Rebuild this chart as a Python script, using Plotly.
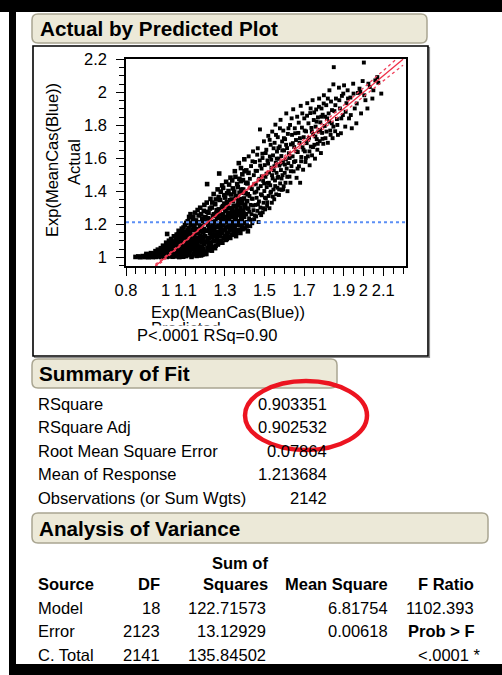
import plotly.graph_objects as go

W, H = 502, 675
FONT = "Liberation Sans, Arial, sans-serif"
BODY = 16.5
HEAD = 20.7

# ---- scatter data: (predicted, actual) ----
pts_floor = [(0.848,1.003),(0.862,1.006),(0.871,1.001),(0.884,1.008),(0.893,1.002),(0.902,1.012),(0.906,1.004),
             (0.914,1.001),(0.918,1.018),(0.923,1.007),(0.931,1.013),(0.935,1.002),(0.941,1.024),(0.946,1.009),
             (0.952,1.003),(0.955,1.031),(0.958,1.016),(0.963,1.006),(0.967,1.041),(0.971,1.022),(0.974,1.011),
             (0.978,1.002),(0.982,1.035),(0.985,1.052),(0.988,1.018),(0.991,1.007),(0.994,1.028),(0.997,1.063),
             (1.001,1.044),(1.004,1.013),(1.006,1.003),(1.008,1.142),(1.009,1.072),(1.012,1.025),(1.015,1.055),
             (1.018,1.037),(1.021,1.009),(1.024,1.084),(1.027,1.046),(1.029,1.018),(1.032,1.066),(1.035,1.004),
             (1.037,1.097),(1.04,1.031),(1.043,1.058),(1.046,1.012),(1.048,1.078),(1.05,1.041),(1.052,1.121)]

pts_low = [(1.053,1.006),(1.055,1.062),(1.057,1.033),(1.059,1.094),(1.061,1.017),(1.063,1.139),(1.065,1.048),
           (1.067,1.075),(1.069,1.002),(1.071,1.108),(1.073,1.027),(1.075,1.059),(1.077,1.152),(1.079,1.011),
           (1.081,1.086),(1.083,1.038),(1.085,1.122),(1.087,1.069),(1.089,1.004),(1.091,1.181),(1.093,1.049),
           (1.095,1.097),(1.097,1.021),(1.099,1.134),(1.101,1.077),(1.103,1.008),(1.105,1.209),(1.107,1.058),
           (1.109,1.113),(1.111,1.031),(1.113,1.164),(1.115,1.088),(1.117,1.014),(1.119,1.245),(1.121,1.066),
           (1.123,1.141),(1.125,1.042),(1.127,1.193),(1.129,1.102),(1.131,1.003),(1.133,1.126),(1.135,1.054),
           (1.137,1.228),(1.139,1.081),(1.141,1.019),(1.143,1.172),(1.145,1.112),(1.147,1.036),(1.149,1.271),
           (1.151,1.094),(1.153,1.061),(1.155,1.148),(1.157,1.009),(1.159,1.207),(1.161,1.072),(1.163,1.119),
           (1.165,1.028),(1.167,1.254),(1.169,1.169),(1.171,1.046),(1.173,1.098),(1.175,1.301),(1.177,1.133),
           (1.179,1.012),(1.181,1.188),(1.183,1.064),(1.185,1.236),(1.187,1.106),(1.189,1.038),(1.191,1.154),
           (1.193,1.282),(1.195,1.079),(1.197,1.213),(1.199,1.021),(1.2,1.128)]

pts_mid = [(1.202,1.034),(1.204,1.241),(1.206,1.092),(1.208,1.332),(1.21,1.444),(1.211,1.161),(1.213,1.058),
           (1.215,1.198),(1.217,1.271),(1.219,1.117),(1.221,1.043),(1.223,1.228),(1.225,1.146),(1.227,1.354),
           (1.229,1.078),(1.231,1.186),(1.233,1.302),(1.235,1.124),(1.237,1.062),(1.239,1.251),(1.241,1.171),
           (1.243,1.384),(1.245,1.099),(1.247,1.213),(1.249,1.139),(1.251,1.322),(1.253,1.071),(1.255,1.266),
           (1.257,1.188),(1.259,1.108),(1.261,1.239),(1.263,1.412),(1.265,1.152),(1.267,1.087),(1.269,1.291),
           (1.271,1.508),(1.272,1.204),(1.274,1.128),(1.276,1.348),(1.278,1.176),(1.28,1.262),(1.282,1.097),
           (1.284,1.221),(1.286,1.436),(1.288,1.147),(1.29,1.311),(1.292,1.196),(1.294,1.118),(1.296,1.377),
           (1.298,1.244),(1.3,1.167),(1.302,1.283),(1.304,1.106),(1.306,1.458),(1.308,1.212),(1.31,1.334),
           (1.312,1.143),(1.314,1.257),(1.316,1.186),(1.318,1.402),(1.32,1.231),(1.322,1.124),(1.324,1.298),
           (1.326,1.171),(1.328,1.483),(1.33,1.268),(1.332,1.207),(1.334,1.351),(1.336,1.139),(1.338,1.244),
           (1.34,1.418),(1.342,1.191),(1.344,1.312),(1.346,1.158),(1.348,1.276),(1.35,1.522),(1.352,1.226),
           (1.354,1.371),(1.356,1.129),(1.358,1.297),(1.36,1.198),(1.362,1.444),(1.364,1.256),(1.366,1.167),
           (1.368,1.338),(1.37,1.571),(1.372,1.219),(1.374,1.392),(1.376,1.281),(1.378,1.148),(1.38,1.462),
           (1.382,1.243),(1.384,1.326),(1.386,1.182),(1.388,1.503),(1.39,1.268),(1.392,1.411),(1.394,1.206),
           (1.396,1.357),(1.398,1.594),(1.4,1.302)]

pts_upper = [(1.402,1.176),(1.404,1.389),(1.406,1.262),(1.408,1.527),(1.41,1.213),(1.412,1.341),(1.414,1.448),
             (1.416,1.158),(1.418,1.296),(1.42,1.612),(1.422,1.237),(1.424,1.372),(1.426,1.476),(1.428,1.189),
             (1.43,1.318),(1.432,1.553),(1.434,1.262),(1.436,1.414),(1.438,1.207),(1.44,1.355),(1.442,1.642),
             (1.444,1.286),(1.446,1.498),(1.448,1.231),(1.45,1.392),(1.452,1.578),(1.454,1.318),(1.456,1.446),
             (1.458,1.248),(1.46,1.361),(1.462,1.524),(1.464,1.282),(1.466,1.661),(1.468,1.418),(1.47,1.214),
             (1.472,1.339),(1.474,1.476),(1.476,1.587),(1.477,1.775),(1.479,1.302),(1.481,1.432),(1.483,1.256),
             (1.485,1.538),(1.487,1.376),(1.489,1.628),(1.491,1.273),(1.493,1.464),(1.495,1.331),(1.497,1.703),
             (1.499,1.402),(1.501,1.559),(1.503,1.291),(1.505,1.488),(1.507,1.358),(1.509,1.652),(1.511,1.426),
             (1.513,1.312),(1.515,1.587),(1.517,1.451),(1.519,1.736),(1.521,1.372),(1.523,1.514),(1.525,1.298),
             (1.527,1.611),(1.529,1.437),(1.531,1.682),(1.533,1.398),(1.535,1.543),(1.537,1.331),(1.539,1.762),
             (1.541,1.478),(1.543,1.618),(1.545,1.411),(1.547,1.527),(1.549,1.352),(1.551,1.694),(1.553,1.466),
             (1.555,1.804),(1.557,1.573),(1.559,1.382),(1.561,1.512),(1.563,1.641),(1.565,1.422),(1.567,1.728),
             (1.569,1.488),(1.571,1.598),(1.573,1.378),(1.575,1.556),(1.577,1.672),(1.579,1.448),(1.581,1.833),
             (1.583,1.529),(1.585,1.614),(1.587,1.409),(1.589,1.702),(1.591,1.498),(1.593,1.576),(1.595,1.768),
             (1.597,1.431),(1.599,1.648)]

pts_high = [(1.602,1.512),(1.604,1.716),(1.606,1.452),(1.608,1.594),(1.61,1.872),(1.612,1.538),(1.614,1.662),
            (1.616,1.401),(1.618,1.748),(1.62,1.571),(1.623,1.631),(1.626,1.489),(1.629,1.802),(1.631,1.452),
            (1.633,1.684),(1.636,1.553),(1.639,1.742),(1.642,1.612),(1.645,1.897),(1.647,1.521),(1.65,1.668),
            (1.653,1.782),(1.656,1.583),(1.659,1.711),(1.662,1.482),(1.665,1.852),(1.668,1.638),(1.671,1.754),
            (1.674,1.552),(1.677,1.694),(1.68,1.452),(1.683,1.918),(1.686,1.608),(1.689,1.786),(1.692,1.667),
            (1.695,1.531),(1.698,1.728),(1.701,1.842),(1.704,1.642),(1.707,1.578),(1.71,1.763),(1.713,1.692),
            (1.716,1.934),(1.719,1.612),(1.722,1.812),(1.725,1.724),(1.728,1.558),(1.731,1.874),(1.734,1.671),
            (1.737,1.784),(1.74,1.618),(1.743,1.952),(1.746,1.746),(1.749,1.832),(1.752,1.682),(1.755,1.598),
            (1.758,1.792),(1.761,1.896),(1.764,1.716),(1.767,1.652),(1.77,1.848),(1.773,1.762),(1.776,1.962),
            (1.779,1.704),(1.782,1.818),(1.785,1.632),(1.788,1.902),(1.791,1.754),(1.794,1.864),(1.797,1.688),
            (1.8,1.982),(1.804,1.796),(1.808,1.722),(1.812,1.922),(1.816,1.842),(1.82,1.694),(1.824,1.872),
            (1.828,2.012),(1.832,1.768),(1.836,1.944),(1.84,1.812),(1.844,1.722),(1.848,2.048),(1.85,2.152)]

pts_top = [(1.853,1.886),(1.857,1.764),(1.861,1.962),(1.866,1.838),(1.871,1.742),(1.876,2.028),(1.881,1.902),
           (1.886,1.752),(1.891,1.978),(1.896,1.862),(1.902,2.042),(1.908,1.792),(1.914,1.934),(1.92,2.012),
           (1.927,1.842),(1.934,1.968),(1.941,1.782),(1.948,2.052),(1.956,1.902),(1.964,1.812),(1.972,1.996),
           (1.98,2.022),(1.988,1.872),(1.996,2.068),(2.002,2.18),(2.01,1.952),(2.02,1.902),(2.032,2.032),
           (2.045,1.962),(2.06,2.072),(2.075,2.058),(2.09,1.992)]

pts_fill_low = [(0.903,1.021),(0.911,1.009),(0.926,1.026),(0.938,1.016),(0.944,1.004),(0.949,1.038),(0.957,1.024),
                (0.961,1.047),(0.966,1.014),(0.969,1.029),(0.976,1.056),(0.979,1.019),(0.983,1.008),(0.987,1.071),
                (0.993,1.046),(0.996,1.012),(0.999,1.027),(1.003,1.089),(1.007,1.052),(1.011,1.006),(1.014,1.034),
                (1.017,1.101),(1.02,1.061),(1.023,1.021),(1.026,1.043),(1.028,1.112),(1.031,1.082),(1.034,1.029),
                (1.036,1.011),(1.039,1.072),(1.042,1.128),(1.044,1.047),(1.047,1.093),(1.049,1.022),(1.051,1.064),
                (1.054,1.106),(1.056,1.138),(1.058,1.014),(1.06,1.079),(1.062,1.052),(1.064,1.021),(1.066,1.161),
                (1.068,1.096),(1.07,1.039),(1.072,1.128),(1.074,1.008),(1.076,1.084),(1.078,1.113),(1.08,1.052),
                (1.082,1.174),(1.084,1.019),(1.086,1.099),(1.088,1.146),(1.09,1.061),(1.092,1.028),(1.094,1.123),
                (1.096,1.072),(1.098,1.196),(1.1,1.041),(1.102,1.156),(1.104,1.093),(1.106,1.018),(1.108,1.132),
                (1.11,1.071),(1.112,1.219),(1.114,1.047),(1.116,1.178),(1.118,1.104),(1.12,1.026),(1.122,1.151),
                (1.124,1.083),(1.126,1.262),(1.128,1.058),(1.13,1.206),(1.132,1.116),(1.134,1.011),(1.136,1.167),
                (1.138,1.091),(1.14,1.243),(1.142,1.048),(1.144,1.137),(1.146,1.196),(1.148,1.074),(1.15,1.021),
                (1.152,1.118),(1.154,1.224),(1.156,1.171),(1.158,1.086),(1.16,1.043),(1.162,1.287),(1.164,1.149),
                (1.166,1.104),(1.168,1.013),(1.17,1.212),(1.172,1.066),(1.174,1.184),(1.176,1.123),(1.178,1.034),
                (1.18,1.262),(1.182,1.092),(1.184,1.159),(1.186,1.017),(1.188,1.221),(1.19,1.121),(1.192,1.052),
                (1.194,1.172),(1.196,1.318),(1.198,1.096),(1.2,1.244)]

pts_fill_mid = [(1.203,1.162),(1.206,1.021),(1.209,1.276),(1.212,1.112),(1.214,1.237),(1.218,1.068),(1.22,1.172),
                (1.224,1.296),(1.226,1.091),(1.228,1.214),(1.232,1.138),(1.234,1.041),(1.236,1.332),(1.238,1.192),
                (1.242,1.102),(1.244,1.261),(1.246,1.162),(1.25,1.056),(1.252,1.218),(1.254,1.351),(1.256,1.131),
                (1.258,1.286),(1.262,1.182),(1.264,1.078),(1.266,1.244),(1.268,1.366),(1.27,1.141),(1.273,1.271),
                (1.275,1.192),(1.277,1.101),(1.279,1.398),(1.281,1.236),(1.283,1.161),(1.285,1.302),(1.287,1.089),
                (1.289,1.258),(1.291,1.421),(1.293,1.168),(1.295,1.214),(1.297,1.326),(1.299,1.128),(1.301,1.362),
                (1.303,1.238),(1.305,1.181),(1.307,1.296),(1.309,1.111),(1.311,1.388),(1.313,1.222),(1.315,1.318),
                (1.317,1.151),(1.319,1.268),(1.321,1.441),(1.323,1.196),(1.325,1.346),(1.327,1.118),(1.329,1.252),
                (1.331,1.381),(1.333,1.168),(1.335,1.292),(1.337,1.466),(1.339,1.214),(1.341,1.342),(1.343,1.138),
                (1.345,1.256),(1.347,1.398),(1.349,1.183),(1.351,1.312),(1.353,1.488),(1.355,1.244),(1.357,1.152),
                (1.359,1.361),(1.361,1.276),(1.363,1.208),(1.365,1.426),(1.367,1.318),(1.369,1.162),(1.371,1.261),
                (1.373,1.476),(1.375,1.352),(1.377,1.196),(1.379,1.298),(1.381,1.541),(1.383,1.411),(1.385,1.226),
                (1.387,1.343),(1.389,1.171),(1.391,1.468),(1.393,1.282),(1.395,1.392),(1.397,1.246),(1.399,1.522),
                (1.403,1.318),(1.407,1.452),(1.411,1.188),(1.415,1.382),(1.419,1.512),(1.423,1.276),(1.427,1.421),
                (1.431,1.228),(1.435,1.356),(1.439,1.582),(1.443,1.314),(1.447,1.442),(1.451,1.254),(1.455,1.524),
                (1.459,1.398),(1.463,1.622),(1.467,1.321),(1.471,1.471),(1.475,1.268),(1.478,1.556),(1.482,1.382),
                (1.486,1.491),(1.49,1.602),(1.494,1.298),(1.498,1.448),(1.502,1.362),(1.506,1.632),(1.51,1.506),
                (1.514,1.334),(1.518,1.568),(1.522,1.452),(1.526,1.712),(1.53,1.392),(1.534,1.592),(1.538,1.498),
                (1.542,1.368),(1.546,1.661),(1.55,1.552),(1.554,1.432),(1.558,1.742),(1.562,1.598),(1.566,1.482),
                (1.57,1.662),(1.574,1.412),(1.578,1.782),(1.582,1.568),(1.586,1.478),(1.59,1.648),(1.594,1.412),
                (1.598,1.722)]

pts_fill_high = [(1.603,1.562),(1.609,1.682),(1.615,1.488),(1.621,1.782),(1.627,1.602),(1.633,1.522),(1.637,1.842),
                 (1.643,1.692),(1.649,1.578),(1.655,1.752),(1.661,1.642),(1.667,1.538),(1.673,1.816),(1.679,1.722),
                 (1.685,1.582),(1.691,1.872),(1.697,1.652),(1.703,1.768),(1.709,1.602),(1.715,1.858),(1.721,1.712),
                 (1.727,1.642),(1.733,1.902),(1.739,1.762),(1.745,1.668),(1.751,1.878),(1.757,1.732),(1.763,1.822),
                 (1.769,1.688),(1.775,1.912),(1.781,1.772),(1.787,1.852),(1.793,1.718),(1.799,1.932),(1.806,1.852),
                 (1.813,1.762),(1.82,1.962),(1.827,1.822),(1.834,1.742),(1.841,1.892),(1.848,1.792),(1.858,1.922),
                 (1.868,1.802),(1.878,1.952),(1.888,1.842),(1.898,1.992),(1.91,1.882),(1.922,1.962),(1.936,1.862),
                 (1.95,1.992),(1.966,1.932),(1.984,2.002),(2.004,1.982),(2.025,2.052),(2.05,2.012),(2.07,2.092)]

# fit line (actual = predicted), mean reference line and confidence curve half-widths
fit_ends = [0.948, 2.2]
mean_response = 1.213684
ci_x = [0.948, 1.0, 1.1, 1.21, 1.3, 1.5, 1.7, 1.9, 2.1, 2.2]
ci_half = [0.009, 0.007, 0.004, 0.002, 0.004, 0.009, 0.015, 0.022, 0.031, 0.036]

x_tick_vals = [0.8, 1.0, 1.1, 1.3, 1.5, 1.7, 1.9, 2.0, 2.1]
x_tick_text = ["0.8", "1", "1.1", "1.3", "1.5", "1.7", "1.9", "2", "2.1"]
y_tick_vals = [1.0, 1.2, 1.4, 1.6, 1.8, 2.0, 2.2]
y_tick_text = ["1", "1.2", "1.4", "1.6", "1.8", "2", "2.2"]

summary_labels = ["RSquare", "RSquare Adj", "Root Mean Square Error",
                  "Mean of Response", "Observations (or Sum Wgts)"]
summary_values = ["0.903351", "0.902532", "0.07864", "1.213684", "2142"]

anova_header = ["Source", "DF", "Squares", "Mean Square", "F Ratio"]
anova_source = ["Model", "Error", "C. Total"]
anova_df = ["18", "2123", "2141"]
anova_ss = ["122.71573", "13.12929", "135.84502"]
anova_ms = ["6.81754", "0.00618", ""]
anova_f = ["1102.393", "<b>Prob &gt; F</b>", ""]
anova_p = "&lt;.0001 *"


def X(p):
    return p / W


def Y(p):
    return 1 - p / H


all_pts = (pts_floor + pts_fill_low + pts_low + pts_mid + pts_fill_mid + pts_upper
           + pts_high + pts_fill_high + pts_top)
dense = [p for p in all_pts if p[0] < 1.42]
sparse = [p for p in all_pts if p[0] >= 1.42]

XR = [0.8, 2.215]
YR = [0.948, 2.2015]

fig = go.Figure()
for group, size in ((dense, 4.6), (sparse, 3.9)):
    fig.add_trace(go.Scatter(x=[p[0] for p in group], y=[p[1] for p in group], mode="markers",
                             marker=dict(symbol="square", size=size, color="black", line=dict(width=0)),
                             hoverinfo="skip"))
fig.add_trace(go.Scatter(x=XR, y=[mean_response, mean_response], mode="lines",
                         line=dict(color="#5b8ff5", width=2, dash="dot"), hoverinfo="skip"))
fig.add_trace(go.Scatter(x=ci_x, y=[a + h for a, h in zip(ci_x, ci_half)], mode="lines",
                         line=dict(color="#f0405a", width=1.3, dash="dot"), hoverinfo="skip"))
fig.add_trace(go.Scatter(x=ci_x, y=[a - h for a, h in zip(ci_x, ci_half)], mode="lines",
                         line=dict(color="#f0405a", width=1.3, dash="dot"), hoverinfo="skip"))
fig.add_trace(go.Scatter(x=fit_ends, y=fit_ends, mode="lines",
                         line=dict(color="#ee3048", width=1.3), hoverinfo="skip"))

axis_common = dict(showline=True, mirror=True, linecolor="black", linewidth=1.6, automargin=False,
                   showgrid=False, zeroline=False, ticks="outside", tickcolor="black",
                   tickwidth=1, tickfont=dict(family=FONT, size=BODY, color="black"))

fig.update_layout(
    width=W, height=H, margin=dict(l=0, r=0, t=0, b=0, pad=0, autoexpand=False),
    paper_bgcolor="white", plot_bgcolor="rgba(0,0,0,0)", showlegend=False,
    xaxis=dict(domain=[X(126), X(406)], range=XR, tickvals=x_tick_vals, ticktext=x_tick_text,
               ticklen=8, tickangle=0,
               minor=dict(tick0=0.8, dtick=0.05, ticklen=6, ticks="outside", tickcolor="black"),
               **axis_common),
    yaxis=dict(domain=[Y(266), Y(59)], range=YR, tickvals=y_tick_vals, ticktext=y_tick_text,
               ticklen=8, ticklabelstandoff=6,
               minor=dict(tick0=1.0, dtick=0.05, ticklen=5, ticks="outside", tickcolor="black"),
               **axis_common),
)

shapes = []


def rect(x0, y0, x1, y1, fill, line_color=None, lw=0, layer="below"):
    shapes.append(dict(type="rect", xref="paper", yref="paper", x0=X(x0), x1=X(x1), y0=Y(y1), y1=Y(y0),
                       fillcolor=fill, line=dict(color=line_color or fill, width=lw), layer=layer))


def rrect(x0, y0, x1, y1, r):
    path = (f"M {X(x0 + r)},{Y(y0)} L {X(x1 - r)},{Y(y0)} Q {X(x1)},{Y(y0)} {X(x1)},{Y(y0 + r)} "
            f"L {X(x1)},{Y(y1 - r)} Q {X(x1)},{Y(y1)} {X(x1 - r)},{Y(y1)} "
            f"L {X(x0 + r)},{Y(y1)} Q {X(x0)},{Y(y1)} {X(x0)},{Y(y1 - r)} "
            f"L {X(x0)},{Y(y0 + r)} Q {X(x0)},{Y(y0)} {X(x0 + r)},{Y(y0)} Z")
    shapes.append(dict(type="path", xref="paper", yref="paper", path=path, fillcolor="#ece9d8",
                       line=dict(color="#a9a591", width=1.5), layer="below"))


# black window frame
rect(0, 0, 502, 12, "black")
rect(9, 0, 16, 675, "black")
rect(9, 664, 502, 675, "black")

# header boxes
rrect(32, 14, 427, 43, 6)
rrect(32, 359, 337, 388, 6)
rrect(32, 513, 488, 543, 6)

# plot frame with grey shadow
rect(34.5, 47.5, 429.5, 357.5, "white", "#8c8c8c", 1.2)
rect(33, 46, 428, 356, "white", "black", 1.6)

# red highlight ellipse
shapes.append(dict(type="circle", xref="paper", yref="paper", x0=X(245), x1=X(367), y0=Y(450), y1=Y(381),
                   line=dict(color="#ec1420", width=4.5), layer="above"))

fig.update_layout(shapes=shapes)

ann = []


def text(x, y, s, anchor="left", size=BODY, bold=False, **kw):
    ann.append(dict(x=X(x), y=Y(y), xref="paper", yref="paper", text=f"<b>{s}</b>" if bold else s,
                    showarrow=False, xanchor=anchor, yanchor="middle",
                    font=dict(family=FONT, size=size, color="black"), **kw))


text(38, 28.5, "Actual by Predicted Plot", size=HEAD, bold=True)
text(37, 373.5, "Summary of Fit", size=HEAD, bold=True)
text(37, 528, "Analysis of Variance", size=HEAD, bold=True)

# axis titles
text(52, 160, "Exp(MeanCas(Blue))", anchor="center", textangle=-90)
text(74, 162, "Actual", anchor="center", textangle=-90)
text(149, 311.5, "Exp(MeanCas(Blue))")
text(149, 328, "Predicted")
text(136, 334.5, "P&lt;.0001 RSq=0.90", bgcolor="white", borderpad=0)

# summary of fit
for i, (lab, val) in enumerate(zip(summary_labels, summary_values)):
    yy = 403.5 + i * 23.6
    text(36, yy, lab)
    text(329, yy, val, anchor="right")

# analysis of variance
text(270, 563, "Sum of", anchor="right", bold=True)
col_right = [None, 162, 270, 390, 476]
text(36, 584, anova_header[0], bold=True)
for c in range(1, 5):
    text(col_right[c], 584, anova_header[c], anchor="right", bold=True)
for r in range(3):
    yy = 607.5 + r * 23.5
    text(36, yy, anova_source[r])
    text(162, yy, anova_df[r], anchor="right")
    text(268, yy, anova_ss[r], anchor="right")
    if anova_ms[r]:
        text(390, yy, anova_ms[r], anchor="right")
    if anova_f[r]:
        text(476, yy, anova_f[r], anchor="right")
text(483, 607.5 + 2 * 23.5, anova_p, anchor="right")

fig.update_layout(annotations=ann)
fig.write_html("out.html")
